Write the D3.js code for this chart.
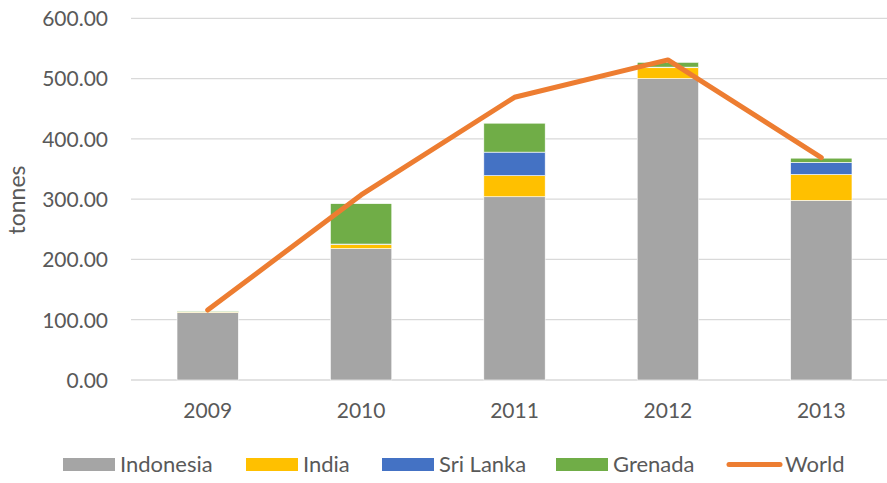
<!DOCTYPE html>
<html><head><meta charset="utf-8">
<script src="https://cdn.jsdelivr.net/npm/d3@7"></script>
<style>body{margin:0;background:#fff;overflow:hidden}svg{display:block}</style>
</head><body>
<svg id="c" width="887" height="483"></svg>
<script>
const years = ["2009","2010","2011","2012","2013"];
const indonesia = [112, 218, 304, 500, 298];
const india = [1, 7, 35, 18, 43];
const sriLanka = [0.5, 0.5, 39, 1, 20];
const grenada = [1, 67, 48, 8, 7];
const world = [116, 307, 469, 531, 369];
const seriesNames = ["Indonesia","India","Sri Lanka","Grenada"];
const seriesColors = ["#A5A5A5","#FFC000","#4472C4","#70AD47"];
const yTicks = [0,100,200,300,400,500,600];

const svg = d3.select("#c");
const font = "Lato, 'Open Sans', sans-serif";
const textColor = "#595959";

const x = d3.scaleBand().domain(years).range([131, 898]).paddingInner(0.6).paddingOuter(0.3);
const y = d3.scaleLinear().domain([0,600]).range([380, 18.3]);

// gridlines
svg.append("g").selectAll("line").data(yTicks).join("line")
  .attr("x1",131).attr("x2",898)
  .attr("y1",d=>y(d)).attr("y2",d=>y(d))
  .attr("stroke","#D9D9D9").attr("stroke-width",1.3);

// y axis labels
const yAxis = d3.axisLeft(y).tickValues(yTicks).tickFormat(d3.format(".2f")).tickSize(0).tickPadding(0);
const ga = svg.append("g").attr("transform","translate(108,0)").call(yAxis);
ga.select(".domain").remove();
ga.selectAll("text").attr("font-family",font).attr("font-size",21).attr("fill",textColor).attr("dy","0.35em");

// x axis labels
const xAxis = d3.axisBottom(x).tickSize(0).tickPadding(0);
const gx = svg.append("g").attr("transform","translate(0,403)").call(xAxis);
gx.select(".domain").remove();
gx.selectAll("text").attr("font-family",font).attr("font-size",21).attr("fill",textColor).attr("dy","0.71em");

// stacked bars
const rows = years.map((yr,i)=>({year:yr,"Indonesia":indonesia[i],"India":india[i],"Sri Lanka":sriLanka[i],"Grenada":grenada[i]}));
const stacked = d3.stack().keys(seriesNames)(rows);
svg.append("g").selectAll("g").data(stacked).join("g")
  .attr("fill",(d,i)=>seriesColors[i])
  .selectAll("rect").data(d=>d).join("rect")
  .attr("x",d=>x(d.data.year))
  .attr("width",x.bandwidth())
  .attr("y",d=>y(d[1]))
  .attr("height",d=>y(d[0])-y(d[1]))
  .attr("stroke","#fff").attr("stroke-width",0.6);

// world line
const line = d3.line().x((d,i)=>x(years[i])+x.bandwidth()/2).y(d=>y(d));
svg.append("path").datum(world).attr("d",line)
  .attr("fill","none").attr("stroke","#ED7D31").attr("stroke-width",5)
  .attr("stroke-linecap","round").attr("stroke-linejoin","round");

// y title
svg.append("text").attr("transform","translate(25,200) rotate(-90)")
  .attr("text-anchor","middle").attr("font-family",font).attr("font-size",23)
  .attr("fill",textColor).text("tonnes");

// legend
const legendItems = [
  {name:"Indonesia",color:seriesColors[0],x:63,type:"rect"},
  {name:"India",color:seriesColors[1],x:246,type:"rect"},
  {name:"Sri Lanka",color:seriesColors[2],x:382,type:"rect"},
  {name:"Grenada",color:seriesColors[3],x:556,type:"rect"},
  {name:"World",color:"#ED7D31",x:729,type:"line"}
];
const lg = svg.append("g");
legendItems.forEach(it=>{
  if(it.type==="rect"){
    lg.append("rect").attr("x",it.x).attr("y",458).attr("width",52).attr("height",13).attr("fill",it.color);
    lg.append("text").attr("x",it.x+57).attr("y",464.5).attr("dy","0.35em")
      .attr("font-family",font).attr("font-size",22).attr("fill",textColor).text(it.name);
  } else {
    lg.append("line").attr("x1",it.x).attr("x2",it.x+51).attr("y1",464.5).attr("y2",464.5)
      .attr("stroke",it.color).attr("stroke-width",5).attr("stroke-linecap","round");
    lg.append("text").attr("x",it.x+56).attr("y",464.5).attr("dy","0.35em")
      .attr("font-family",font).attr("font-size",22).attr("fill",textColor).text(it.name);
  }
});
</script>
</body></html>
